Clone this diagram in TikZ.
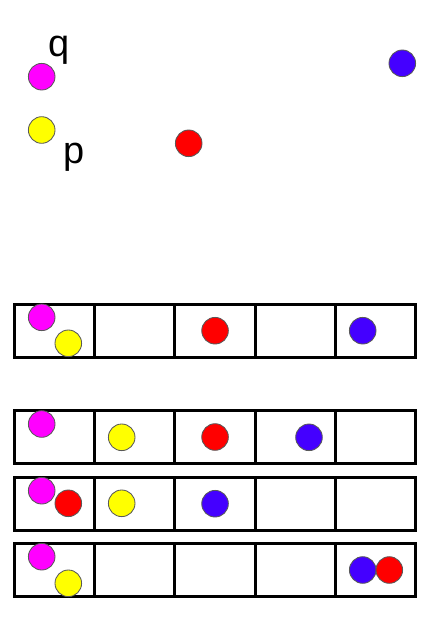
\documentclass[tikz,border=0pt]{standalone}
\usepackage{fontspec}
\setsansfont{Liberation Sans}
\usepackage{tikz}
\usetikzlibrary{shapes.geometric}
\definecolor{ballm}{RGB}{255,0,255}
\definecolor{bally}{RGB}{255,255,0}
\definecolor{ballr}{RGB}{255,0,0}
\definecolor{ballb}{RGB}{68,0,255}
\tikzstyle{ball}=[draw=black!65, line width=0.6pt, circle, inner sep=0pt, minimum size=0.665cm]
\tikzstyle{mball}=[ball, fill=ballm]
\tikzstyle{yball}=[ball, fill=bally]
\tikzstyle{rball}=[ball, fill=ballr]
\tikzstyle{bball}=[ball, fill=ballb]
\tikzstyle{cell}=[draw, line width=2.1pt, inner sep=0pt, minimum width=2.0075cm, minimum height=1.325cm]
\tikzstyle{lbl}=[inner sep=0pt, anchor=base west, font=\sffamily\fontsize{27}{30}\selectfont]

\begin{document}
\begin{tikzpicture}[x=0.025cm, y=-0.025cm]
        \useasboundingbox (0, 0) rectangle (440, 626);
        % points in the plane
        \node[mball] (q) at (41.7, 76.7) {};
        \node[yball] (p) at (41.7, 130) {};
        \node[rball] (r) at (188.7, 143.3) {};
        \node[bball] (b) at (402.3, 63.3) {};
        \node[lbl] (qlabel) at (48.5, 56.4) {q};
        \node[lbl] (plabel) at (63.5, 163) {p};
        % hash tables
        \foreach \row/\y in {1/330.7, 2/437, 3/503.7, 4/570} {
            \foreach \col in {1,...,5} {
                \node[cell] (t\row c\col) at ({14.3 + 80.3*(\col - 0.5)}, \y) {};
            }
        }
        % row 1
        \node[mball] (q1) at (41.7, 317.3) {};
        \node[yball] (p1) at (68.3, 343.3) {};
        \node[rball] (r1) at (t1c3) {};
        \node[bball] (b1) at (362.7, 330.7) {};
        % row 2
        \node[mball] (q2) at (41.7, 424) {};
        \node[yball] (p2) at (121.7, 437.3) {};
        \node[rball] (r2) at (t2c3) {};
        \node[bball] (b2) at (309, 437.3) {};
        % row 3
        \node[mball] (q3) at (41.7, 490.7) {};
        \node[rball] (r3) at (68.3, 503.3) {};
        \node[yball] (p3) at (121.7, 503.3) {};
        \node[bball] (b3) at (t3c3) {};
        % row 4
        \node[mball] (q4) at (41.7, 556.7) {};
        \node[yball] (p4) at (68.3, 583.3) {};
        \node[bball] (b4) at (362.7, 570) {};
        \node[rball] (r4) at (389.3, 570) {};
    \end{tikzpicture}
\end{document}
